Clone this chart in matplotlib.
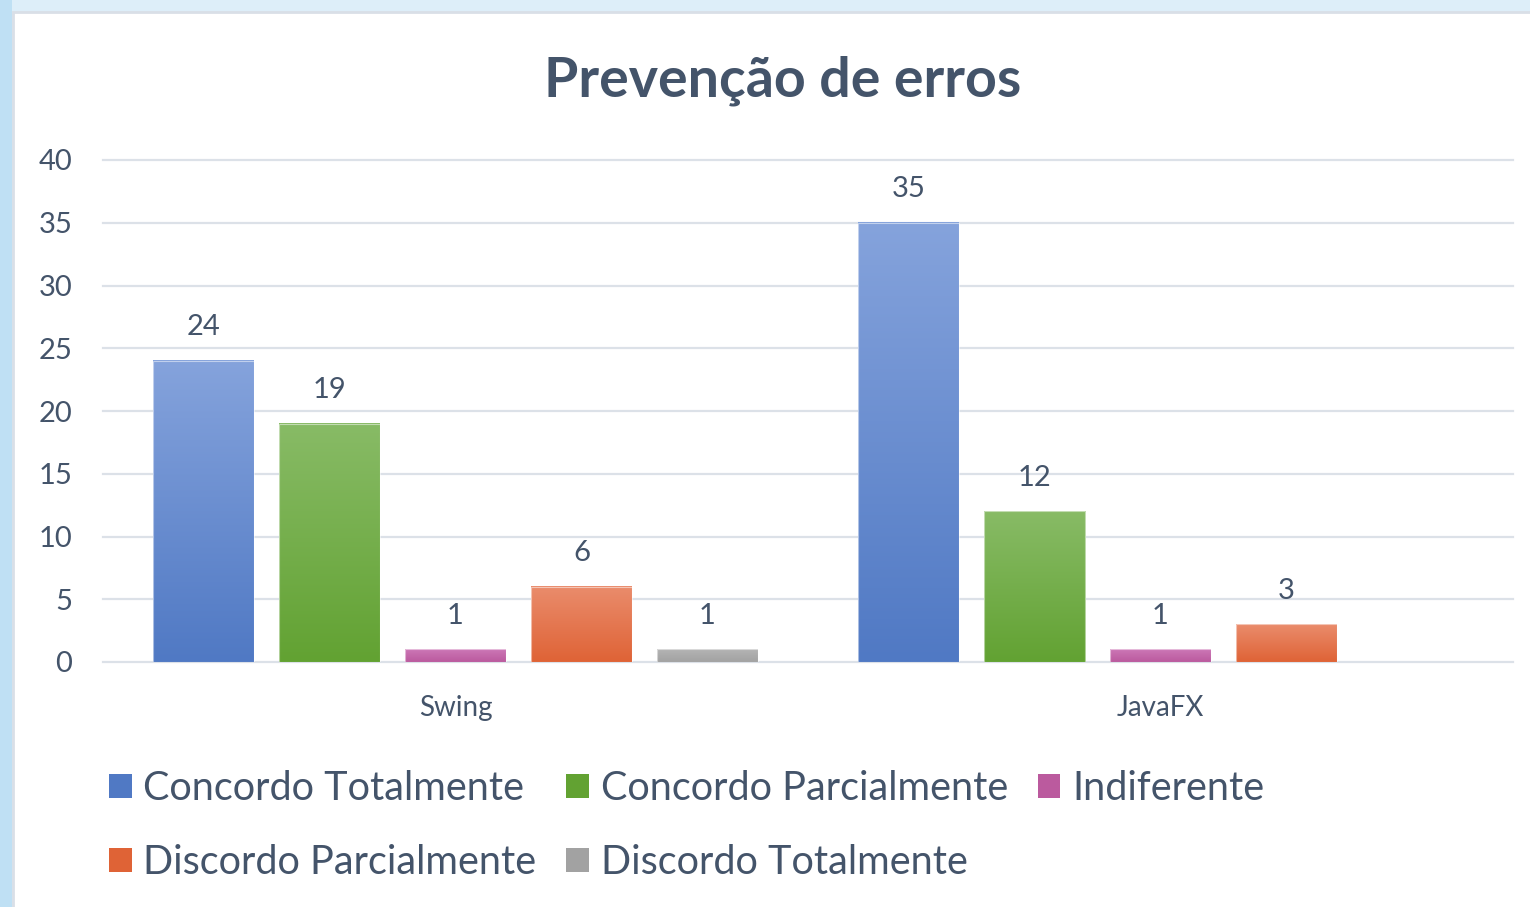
import numpy as np
import matplotlib
matplotlib.use("Agg")
import matplotlib.pyplot as plt
from matplotlib.colors import to_rgb
from matplotlib.patches import Patch, Rectangle

# 数据
categories = ["Swing", "JavaFX"]
series_names = ["Concordo Totalmente", "Concordo Parcialmente", "Indiferente",
                "Discordo Parcialmente", "Discordo Totalmente"]
concordo_total = [24, 35]
concordo_parcial = [19, 12]
indiferente = [1, 1]
discordo_parcial = [6, 3]
discordo_total = [1, None]

series_values = [concordo_total, concordo_parcial, indiferente, discordo_parcial, discordo_total]
# (top, bottom) gradient colours for each series
series_colors = [("#85a3dc", "#5079c4"),
                 ("#88bb66", "#62a232"),
                 ("#cc77b6", "#bb5a9e"),
                 ("#ea8c6c", "#df6336"),
                 ("#b4b4b4", "#a2a2a2")]
yticks = [0, 5, 10, 15, 20, 25, 30, 35, 40]

TEXT = "#44546a"
GRID = "#dce1e8"
plt.rcParams["font.family"] = ["Lato", "DejaVu Sans"]

W, H = 1530, 907
fig = plt.figure(figsize=(W / 100, H / 100), dpi=100, facecolor="#ddeef9")
# left strip of the window background + white chart panel
fig.patches.append(Rectangle((0, 0), 12 / W, 1, transform=fig.transFigure,
                             facecolor="#bfe0f4", edgecolor="none", zorder=-2))
fig.patches.append(Rectangle((13 / W, -0.01), 1.0, 1 - 12 / H + 0.01, transform=fig.transFigure,
                             facecolor="white", edgecolor="#d9dfe7", linewidth=2, zorder=-1))

ax = fig.add_axes([103 / W, 1 - 662 / H, (1513 - 103) / W, (662 - 160) / H])
ax.set_zorder(2)
ax.set_facecolor("none")
for s in ax.spines.values():
    s.set_visible(False)

n = len(series_values)
step = 126 / 705
width = 101 / 705
x = np.arange(len(categories))


def gradient_bar(ax, xc, h, top, bottom):
    c0 = np.array(to_rgb(top))
    c1 = np.array(to_rgb(bottom))
    t = np.linspace(0, 1, 128)[:, None]
    img = (c0 * (1 - t) + c1 * t)[:, None, :]
    ax.imshow(img, extent=[xc - width / 2, xc + width / 2, 0, h], origin="upper",
              aspect="auto", interpolation="bilinear", zorder=3)
    ax.add_patch(Rectangle((xc - width / 2, 0), width, h, facecolor="none",
                           edgecolor="white", linewidth=0.8, alpha=0.5, zorder=4))


for i, (vals, (top, bottom)) in enumerate(zip(series_values, series_colors)):
    for j, v in enumerate(vals):
        if v is None:
            continue
        xc = x[j] + (i - (n - 1) / 2) * step
        gradient_bar(ax, xc, v, top, bottom)
        ax.annotate(str(v), (xc, v), xytext=(0, 15), textcoords="offset points",
                    ha="center", va="bottom", fontsize=21, color=TEXT)

for yv in yticks:
    ax.axhline(yv, color=GRID, linewidth=1.6, zorder=1, clip_on=False)

ax.set_xlim(-0.5, 1.5)
ax.set_ylim(0, 40)
ax.set_yticks(yticks)
ax.set_xticks(x)
ax.set_xticklabels(categories)
ax.tick_params(axis="y", length=0, pad=22, labelsize=21, labelcolor=TEXT)
ax.tick_params(axis="x", length=0, pad=24, labelsize=20, labelcolor=TEXT)

fig.text(783 / W, 1 - 81 / H, "Prevenção de erros", ha="center", va="center",
         fontsize=40, fontweight="bold", color=TEXT)

# legend is filled column by column, so reorder to get the row layout
handles = [Patch(facecolor=c[1], edgecolor="none") for c in series_colors]
order = [0, 3, 1, 4, 2]
leg = fig.legend([handles[k] for k in order], [series_names[k] for k in order],
                 loc="upper left", bbox_to_anchor=(109 / W, 1 - 770 / H), ncol=3,
                 frameon=False, fontsize=28.5, handlelength=0.57, handleheight=0.57,
                 handletextpad=0.3, columnspacing=0.75, labelspacing=0.93, borderpad=0,
                 borderaxespad=0, labelcolor=TEXT)

fig.savefig("out.png", dpi=100, facecolor=fig.get_facecolor())
